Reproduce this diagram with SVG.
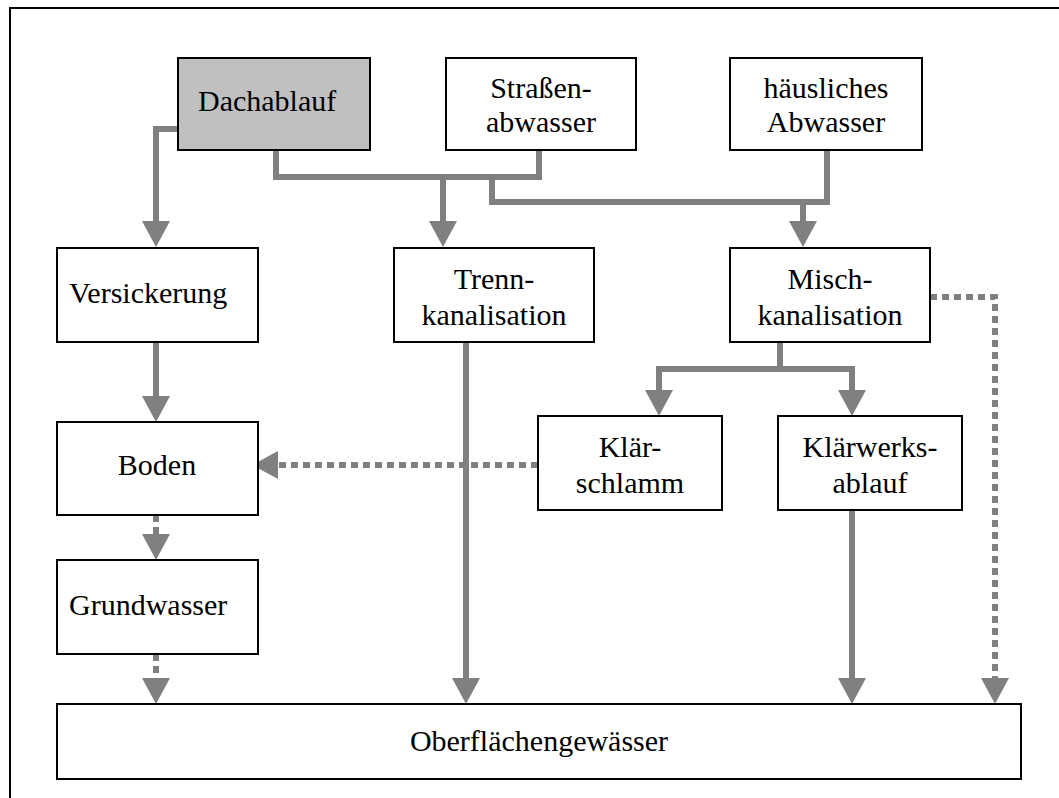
<svg xmlns="http://www.w3.org/2000/svg" width="1059" height="798" viewBox="0 0 1059 798">
<style>
.box{fill:#fff;stroke:#000;stroke-width:2}
.grey{fill:#c0c0c0}
.t{font-family:"Liberation Serif","Times New Roman",serif;font-size:30px;fill:#000}
.c{text-anchor:middle}
.ln{fill:none;stroke:#808080;stroke-width:6;stroke-linejoin:miter}
.d{stroke-dasharray:7 5}
.a{marker-end:url(#ah)}
</style>
<defs>
<marker id="ah" viewBox="0 0 26 28" markerWidth="26" markerHeight="28" refX="0" refY="14" orient="auto" markerUnits="userSpaceOnUse">
<path d="M0,0 L26,14 L0,28 z" fill="#808080"/>
</marker>
</defs>
<rect x="10" y="8" width="1070" height="810" fill="#fff" stroke="#000" stroke-width="2"/>
<g id="connectors">
<path class="ln a" d="M178,129 H156 V221"/>
<path class="ln" d="M276,150 V177 H539 V150"/>
<path class="ln" d="M492,177 V202 H827 V150"/>
<path class="ln a" d="M443,177 V221"/>
<path class="ln a" d="M803,202 V221"/>
<path class="ln a" d="M156,342 V396"/>
<path class="ln d a" d="M156,515 V534"/>
<path class="ln d a" d="M156,654 V678"/>
<path class="ln a" d="M466,342 V678"/>
<path class="ln" d="M780,342 V369"/>
<path class="ln a" d="M659,390 V369 H852 V390"/>
<path class="ln a" d="M659,369 V390"/>
<path class="ln d a" d="M538,465 H278"/>
<path class="ln a" d="M852,510 V678"/>
<path class="ln d a" d="M930,297 H995 V678"/>
</g>
<g id="dachablauf">
<rect class="box grey" x="178" y="58" width="192" height="92"/>
<text class="t" x="198" y="111">Dachablauf</text>
</g>
<g id="strassenabwasser">
<rect class="box" x="446" y="58" width="190" height="92"/>
<text class="t c" x="541" y="98">Straßen-</text>
<text class="t c" x="541" y="132">abwasser</text>
</g>
<g id="haeusliches-abwasser">
<rect class="box" x="730" y="58" width="192" height="92"/>
<text class="t c" x="826" y="98">häusliches</text>
<text class="t c" x="826" y="132">Abwasser</text>
</g>
<g id="versickerung">
<rect class="box" x="57" y="248" width="201" height="94"/>
<text class="t" x="69" y="303">Versickerung</text>
</g>
<g id="trennkanalisation">
<rect class="box" x="394" y="248" width="200" height="94"/>
<text class="t c" x="494" y="289">Trenn-</text>
<text class="t c" x="494" y="325">kanalisation</text>
</g>
<g id="mischkanalisation">
<rect class="box" x="730" y="248" width="200" height="94"/>
<text class="t c" x="830" y="289">Misch-</text>
<text class="t c" x="830" y="325">kanalisation</text>
</g>
<g id="boden">
<rect class="box" x="57" y="422" width="201" height="93"/>
<text class="t c" x="157" y="475">Boden</text>
</g>
<g id="klaerschlamm">
<rect class="box" x="538" y="416" width="184" height="94"/>
<text class="t c" x="630" y="457">Klär-</text>
<text class="t c" x="630" y="493">schlamm</text>
</g>
<g id="klaerwerksablauf">
<rect class="box" x="778" y="416" width="184" height="94"/>
<text class="t c" x="870" y="457">Klärwerks-</text>
<text class="t c" x="870" y="493">ablauf</text>
</g>
<g id="grundwasser">
<rect class="box" x="57" y="560" width="201" height="94"/>
<text class="t" x="69" y="615">Grundwasser</text>
</g>
<g id="oberflaechengewaesser">
<rect class="box" x="57" y="704" width="964" height="75"/>
<text class="t c" x="539" y="751">Oberflächengewässer</text>
</g>
</svg>
